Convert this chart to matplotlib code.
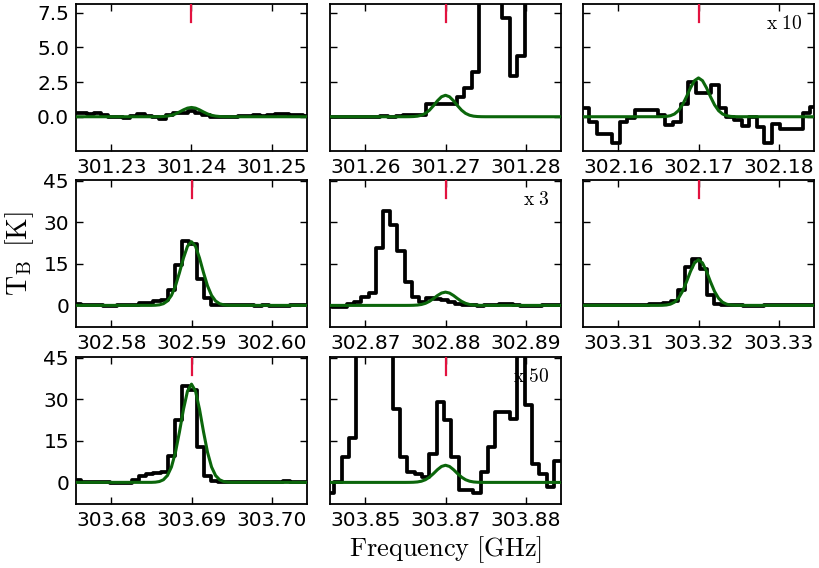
import matplotlib
matplotlib.use("Agg")
import matplotlib.pyplot as plt
import numpy as np

plt.rcParams["mathtext.fontset"] = "cm"
plt.rcParams["font.family"] = ["DejaVu Sans"]

# ---------------------------------------------------------------- data
# Line rest frequencies (GHz), one panel per line
CENTERS = [301.24, 301.27, 302.17, 302.59, 302.88, 303.32, 303.69, 303.865]

XTICK_LABELS = [
    ["301.23", "301.24", "301.25"],
    ["301.26", "301.27", "301.28"],
    ["302.16", "302.17", "302.18"],
    ["302.58", "302.59", "302.60"],
    ["302.87", "302.88", "302.89"],
    ["303.31", "303.32", "303.33"],
    ["303.68", "303.69", "303.70"],
    ["303.85", "303.87", "303.88"],
]

# Frequency of the first channel (GHz) and channel width (GHz) of each spectrum
CHAN_START = [301.2247, 301.2557, 302.1559, 302.57489, 302.86546,
              303.305275, 303.67489, 303.85067]
CHAN_WIDTH = [0.0009, 0.00095, 0.00095, 0.0009, 0.0009, 0.0009, 0.0009, 0.000913]

# Observed brightness temperature per channel (K); some panels are scaled up
SPEC_1 = [0.3, 0.3, 0.25, 0.2, 0.3, 0.15, -0.05, -0.05, -0.1, 0.05, 0.2, 0.05,
          -0.05, -0.15, 0.1, 0.25, 0.3, 0.4, 0.3, 0.1, 0.0, -0.05, -0.05, 0.0,
          0.05, 0.05, 0.1, 0.05, 0.1, 0.2, 0.2, 0.1, 0.1, 0.05]
SPEC_2 = [0.0, 0.0, -0.05, -0.05, -0.05, -0.05, 0.0, 0.05, 0.0, 0.05, 0.1, 0.1,
          0.15, 0.9, 0.95, 0.95, 0.95, 1.4, 2.1, 3.2, 12.0, 14.0, 13.0, 7.1,
          2.95, 4.4, 12.0, 15.0, 14.0, 16.0, 13.0, 12.0]
SPEC_3 = [0.6, -0.36, -1.25, -1.25, -1.88, -0.36, -0.12, 0.48, 0.48, 0.48, 0.12,
          -0.6, -0.36, 0.9, 2.5, 1.7, 1.7, 2.3, 0.6, 0.0, -0.24, -0.67, 0.0,
          -0.72, -1.92, -0.53, -0.91, -0.91, -0.9, 0.24, 0.67]
SPEC_4 = [0.35, 0.35, 0.2, 0.0, 0.0, -0.1, -0.1, 0.0, 0.1, 0.3, 0.85, 0.85, 1.45,
          1.8, 5.45, 14.5, 23.4, 22.2, 9.7, 2.5, 0.2, 0.0, 0.0, 0.05, 0.0, 0.0,
          -0.05, 0.0, -0.1, -0.2, -0.2, 0.0, 0.1, 0.1]
SPEC_5 = [-0.2, -0.4, -0.5, 0.5, 1.3, 2.9, 4.4, 20.7, 34.0, 29.2, 19.8, 8.6, 2.9,
          1.3, 2.5, 2.2, 1.8, 1.2, 0.6, 0.1, 0.0, -0.1, 0.0, 0.1, 0.4, 0.5, 0.2,
          -0.1, -0.3, -0.2, 0.1, 0.2, 0.2, 0.2]
SPEC_6 = [0.0, 0.0, 0.0, 0.0, 0.05, 0.1, 0.1, 0.05, 0.1, 0.3, 0.35, 0.4, 0.85,
          1.45, 5.4, 13.7, 16.6, 13.3, 3.6, 0.4, 0.05, 0.0, 0.0, -0.05, -0.1,
          -0.1, 0.0, 0.0, 0.0, 0.05, 0.1, 0.1, 0.1, 0.1]
SPEC_7 = [0.7, 0.7, 0.2, 0.0, 0.0, 0.0, -0.1, -0.2, -0.2, 1.0, 2.2, 3.0, 3.3, 3.6,
          9.6, 22.7, 35.0, 33.2, 12.9, 2.2, 0.4, 0.0, 0.0, 0.0, 0.05, 0.05, 0.1,
          0.0, 0.1, 0.3, 0.4, 0.2, 0.1, 0.1]
SPEC_8 = [-4.0, 0.3, 9.2, 16.1, 60.0, 70.0, 70.0, 65.0, 55.0, 26.6, 9.2, 3.8, 3.0,
          2.0, 10.4, 29.0, 22.4, 9.2, -2.8, -2.8, -3.9, 3.8, 12.8, 25.4, 25.4,
          23.0, 50.0, 27.8, 6.8, 3.2, -1.6, 7.8, 7.8]

# Synthetic model spectrum, sampled at offsets (GHz) from the line frequency
MODEL_OFFSETS = [-0.016, -0.005, -0.0045, -0.004, -0.0035, -0.003, -0.0025,
                 -0.002, -0.0015, -0.001, -0.0005, 0.0, 0.0005, 0.001, 0.0015,
                 0.002, 0.0025, 0.003, 0.0035, 0.004, 0.0045, 0.005, 0.016]
MODEL_1 = [0.0, 0.0, 0.002, 0.006, 0.018, 0.047, 0.105, 0.205, 0.344, 0.498,
           0.622, 0.67, 0.622, 0.498, 0.344, 0.205, 0.105, 0.047, 0.018, 0.006,
           0.002, 0.0, 0.0]
MODEL_2 = [0.0, 0.001, 0.004, 0.014, 0.042, 0.109, 0.243, 0.474, 0.797, 1.153,
           1.44, 1.55, 1.44, 1.153, 0.797, 0.474, 0.243, 0.109, 0.042, 0.014,
           0.004, 0.001, 0.0]
MODEL_3 = [0.0, 0.002, 0.007, 0.025, 0.076, 0.196, 0.44, 0.857, 1.439, 2.083,
           2.601, 2.8, 2.601, 2.083, 1.439, 0.857, 0.44, 0.196, 0.076, 0.025,
           0.007, 0.002, 0.0]
MODEL_4 = [0.0, 0.01, 0.06, 0.21, 0.62, 1.61, 3.61, 7.04, 11.82, 17.11, 21.37,
           23.0, 21.37, 17.11, 11.82, 7.04, 3.61, 1.61, 0.62, 0.21, 0.06, 0.01, 0.0]
MODEL_5 = [0.0, 0.003, 0.012, 0.043, 0.13, 0.336, 0.754, 1.469, 2.467, 3.571,
           4.459, 4.8, 4.459, 3.571, 2.467, 1.469, 0.754, 0.336, 0.13, 0.043,
           0.012, 0.003, 0.0]
MODEL_6 = [0.0, 0.01, 0.04, 0.15, 0.45, 1.16, 2.59, 5.05, 8.48, 12.28, 15.33, 16.5,
           15.33, 12.28, 8.48, 5.05, 2.59, 1.16, 0.45, 0.15, 0.04, 0.01, 0.0]
MODEL_7 = [0.0, 0.02, 0.09, 0.32, 0.96, 2.49, 5.57, 10.86, 18.25, 26.41, 32.98,
           35.5, 32.98, 26.41, 18.25, 10.86, 5.57, 2.49, 0.96, 0.32, 0.09, 0.02,
           0.0]
MODEL_8 = [0.0, 0.004, 0.016, 0.056, 0.167, 0.434, 0.973, 1.897, 3.187, 4.613,
           5.76, 6.2, 5.76, 4.613, 3.187, 1.897, 0.973, 0.434, 0.167, 0.056,
           0.016, 0.004, 0.0]

SCALE_TEXT = ["", "", "x 10", "", "x 3", "", "", "x 50"]

SPECTRA = [SPEC_1, SPEC_2, SPEC_3, SPEC_4, SPEC_5, SPEC_6, SPEC_7, SPEC_8]
MODELS = [MODEL_1, MODEL_2, MODEL_3, MODEL_4, MODEL_5, MODEL_6, MODEL_7, MODEL_8]

YTICKS_TOP = [0, 2.5, 5.0, 7.5]
YTICKS_LOW = [0, 15, 30, 45]

# ---------------------------------------------------------------- layout
W, H = 820, 568
fig = plt.figure(figsize=(W / 100, H / 100), dpi=100)

COL_LEFT = [76, 330, 583]
ROW_TOP = [4, 180, 357]
AX_W, AX_H = 231, 147
HALF_SPAN = 0.0144

for i in range(8):
    r, c = divmod(i, 3)
    ax = fig.add_axes([COL_LEFT[c] / W, 1 - (ROW_TOP[r] + AX_H) / H,
                       AX_W / W, AX_H / H])
    spec = np.array(SPECTRA[i])
    freq = CHAN_START[i] + CHAN_WIDTH[i] * np.arange(len(spec))
    ax.step(freq, spec, where="mid", color="black", lw=2.7, zorder=2)
    ax.plot(CENTERS[i] + np.array(MODEL_OFFSETS), MODELS[i],
            color="#0b660b", lw=2.2, zorder=3)
    ax.axvline(CENTERS[i], ymin=0.875, ymax=1.0, color="#e2123f", lw=1.6, zorder=4)

    ax.set_xlim(CENTERS[i] - HALF_SPAN, CENTERS[i] + HALF_SPAN)
    ax.set_xticks([CENTERS[i] - 0.01, CENTERS[i], CENTERS[i] + 0.01])
    ax.set_xticklabels(XTICK_LABELS[i])

    if r == 0:
        ax.set_ylim(-2.47, 8.13)
        ax.set_yticks(YTICKS_TOP)
        ax.set_yticklabels([f"{v:.1f}" for v in YTICKS_TOP])
    else:
        ax.set_ylim(-7.8, 45.3)
        ax.set_yticks(YTICKS_LOW)
        ax.set_yticklabels([f"{v:d}" for v in YTICKS_LOW])

    ax.tick_params(direction="in", top=True, right=True, length=5, width=1,
                   labelsize=14.5, pad=5, labelleft=(c == 0))
    for s in ax.spines.values():
        s.set_linewidth(1.3)

    if SCALE_TEXT[i]:
        ax.text(0.952, 0.865, r"$\mathrm{" + SCALE_TEXT[i].replace(" ", r"\ ") + "}$",
                transform=ax.transAxes, ha="right", va="center",
                fontsize=14, zorder=1)

    if i == 3:
        ax.set_ylabel(r"$\mathrm{T_B\ \,[K]}$", fontsize=20, labelpad=5)
    if i == 7:
        ax.set_xlabel(r"$\mathrm{Frequency\ [GHz]}$", fontsize=19, labelpad=3)

fig.savefig("out.png", dpi=100)
